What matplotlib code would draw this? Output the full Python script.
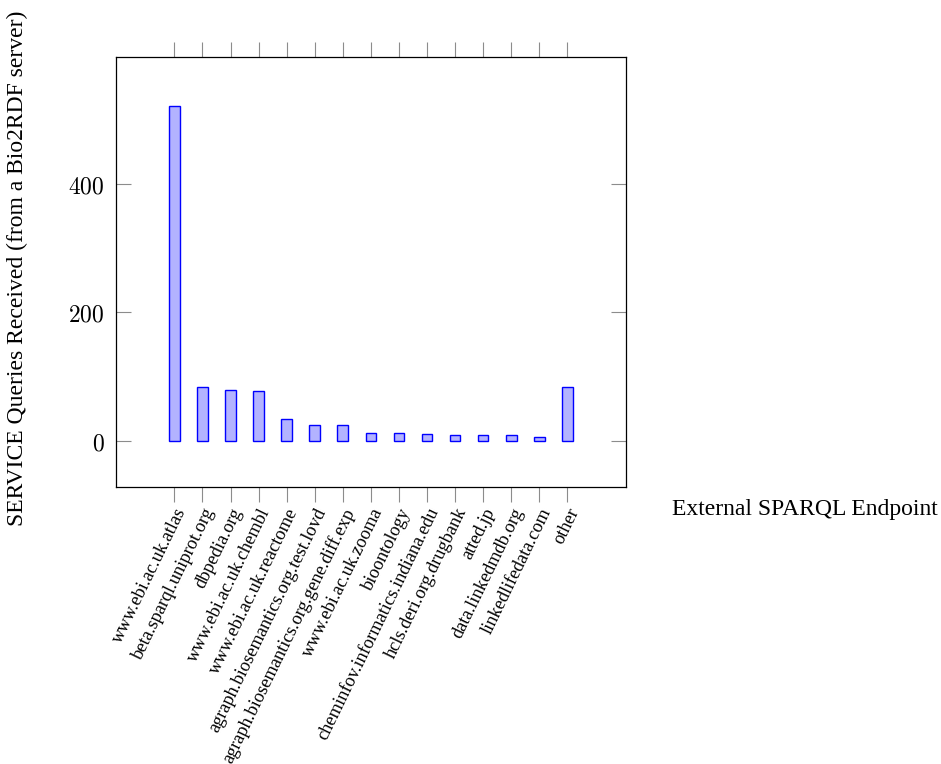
import matplotlib.pyplot as plt
import numpy as np

# Data
endpoints = ['www.ebi.ac.uk.atlas', 'beta.sparql.uniprot.org', 'dbpedia.org',
             'www.ebi.ac.uk.chembl', 'www.ebi.ac.uk.reactome',
             'agraph.biosemantics.org.test.lovd',
             'agraph.biosemantics.org.gene.diff.exp', 'www.ebi.ac.uk.zooma',
             'bioontology', 'cheminfov.informatics.indiana.edu',
             'hcls.deri.org.drugbank', 'atted.jp', 'data.linkedmdb.org',
             'linkedlifedata.com', 'other']
queries = [520, 84, 80, 77, 34, 25, 25, 13, 13, 11, 10, 9, 9, 6, 84]

plt.rcParams['mathtext.fontset'] = 'cm'
serif = 'Liberation Serif'

fig = plt.figure(figsize=(9.41, 7.64), dpi=100)
ax = fig.add_axes([116 / 941, 1 - 487 / 764, 510 / 941, 430 / 764])

x = np.arange(len(endpoints))
ax.bar(x, queries, width=0.38, color=(0.7, 0.7, 1.0), edgecolor='blue', linewidth=1.0)

ax.set_xlim(-2.08, 16.09)
ax.set_ylim(-71.5, 596.7)

ax.set_yticks([0, 200, 400])
ax.set_yticklabels(['$0$', '$200$', '$400$'], fontsize=17)
ax.set_xticks(x)
ax.set_xticklabels(endpoints, rotation=64, ha='right', va='top',
                   rotation_mode='anchor', fontsize=13.2, family=serif)

ax.tick_params(axis='x', direction='out', length=11, color='#8c8c8c', width=0.8,
               top=True, bottom=True, pad=2)
ax.tick_params(axis='y', direction='in', length=11, color='#8c8c8c', width=0.8,
               left=True, right=True, pad=8)
for s in ax.spines.values():
    s.set_linewidth(0.9)

fig.text(17 / 941, 1 - 268 / 764, 'SERVICE Queries Received (from a Bio2RDF server)',
         rotation=90, ha='center', va='center', fontsize=17, family=serif)
fig.text(672 / 941, 1 - 510 / 764, 'External SPARQL Endpoint',
         ha='left', va='center', fontsize=17, family=serif)

fig.savefig('out.png', dpi=100)
